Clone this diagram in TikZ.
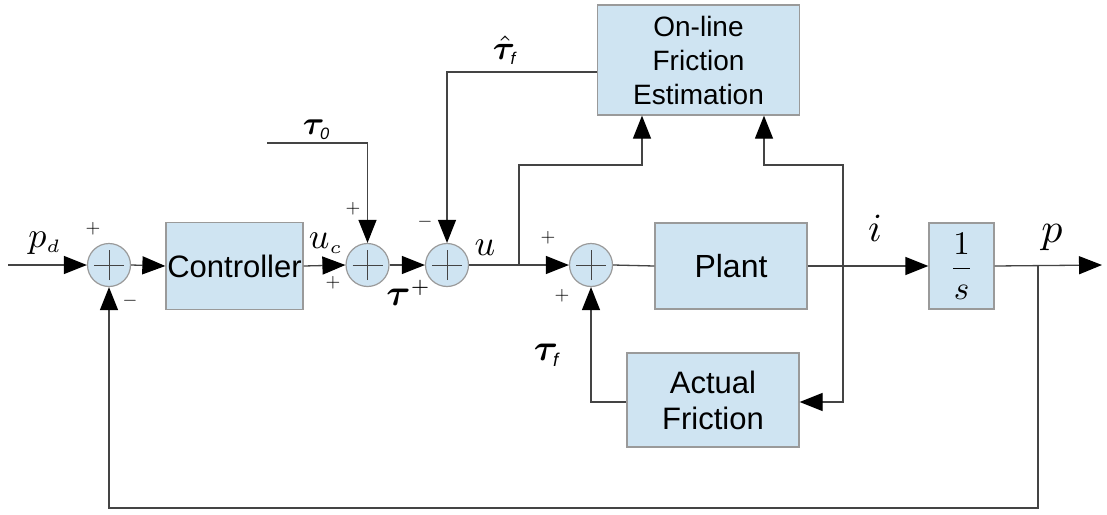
\documentclass[tikz,border=0pt]{standalone}
\usepackage{graphicx}
\usepackage{amsmath}
\usepackage{bm}
\usepackage{fontspec}
\setmainfont{Liberation Sans}
\usetikzlibrary{arrows.meta}
\definecolor{boxblue}{HTML}{CFE4F2}
\definecolor{boxedge}{HTML}{9A9A9A}
\definecolor{wire}{HTML}{444444}
\newcommand{\mlab}[2][2.8]{\scalebox{#1}{$#2$}}
\tikzset{
  blk/.style={draw=boxedge, line width=1.3pt, fill=boxblue, inner sep=0pt, align=center,
    font=\fontsize{31}{34}\selectfont},
  sumnode/.style={circle, draw=boxedge, line width=1.2pt, fill=boxblue, minimum size=43pt, inner sep=0pt,
    path picture={\draw[wire, line width=1pt] ([xshift=-15pt]path picture bounding box.center) -- ([xshift=15pt]path picture bounding box.center);
                  \draw[wire, line width=1pt] ([yshift=-15pt]path picture bounding box.center) -- ([yshift=15pt]path picture bounding box.center);}},
  wireline/.style={draw=wire, line width=1.3pt},
  arr/.style={wireline, -{Triangle[length=23pt,width=18pt,color=black]}},
  lbl/.style={inner sep=0pt, font=\normalsize},
  sgn/.style={inner sep=0pt, font=\normalsize}
}
\begin{document}
\begin{tikzpicture}[x=1pt,y=-1pt]
\path[use as bounding box, fill=white] (0,0) rectangle (1107,514);

% blocks
\node[blk, minimum width=137pt, minimum height=87pt] (ctrl) at (234.5,266) {Controller};
\node[blk, minimum width=202pt, minimum height=110pt, font=\fontsize{28}{34}\selectfont] (est) at (698.5,60) {On-line\\Friction\\Estimation};
\node[blk, minimum width=152pt, minimum height=86pt, font=\fontsize{32}{35}\selectfont] (plant) at (731,266) {Plant};
\node[blk, minimum width=172pt, minimum height=94pt, font=\fontsize{31}{36}\selectfont] (af) at (713,400) {Actual\\Friction};
\node[blk, minimum width=65pt, minimum height=86pt, font=\normalsize] (integ) at (961.5,266) {\mlab[3.3]{\dfrac{1}{s}}};

% summing junctions
\node[sumnode] (s1) at (109,265) {};
\node[sumnode] (s2) at (367.5,265) {};
\node[sumnode] (s3) at (447,265) {};
\node[sumnode] (s4) at (591,265) {};

% free ends and branch points
\coordinate (in) at (8,265);
\coordinate (t0) at (267,143);
\coordinate (j1) at (519,265);
\coordinate (j2) at (843,265);
\coordinate (j3) at (1038,265);
\coordinate (out) at (1102,265);

% connectors
\draw[arr] (in) -- (s1.west);
\draw[arr] (s1.east) -- (ctrl.west);
\draw[arr] (ctrl.east) -- (s2.west);
\draw[arr] (s2.east) -- (s3.west);
\draw[arr] (t0) -| (s2.north);
\draw[arr] ([yshift=-12pt]est.west) -| (s3.north);
\draw[arr] (s3.east) -- (s4.west);
\draw[arr] (j1) -- ++(0,-100) -| ([xshift=-56.5pt]est.south);
\draw[wireline] (s4.east) -- (plant.west);
\draw[arr] (plant.east) -- (integ.west);
\draw[arr] (j2) -- ++(0,-100) -| ([xshift=65.5pt]est.south);
\draw[arr] (j2) |- ([yshift=-2pt]af.east);
\draw[arr] ([yshift=-2pt]af.west) -| (s4.south);
\draw[arr] (integ.east) -- (out);
\draw[arr] (j3) -- ++(0,243) -| (s1.south);

% labels
\node[lbl] (lpd) at (45,243) {\mlab[3.6]{p_{\scriptscriptstyle d}}};
\node[sgn] (sg1) at (93,229) {\mlab[1.9]{+}};
\node[sgn] (sg2) at (130,301) {\mlab[1.9]{-}};
\node[lbl] (luc) at (326,243) {\mlab[3.6]{u_{\scriptscriptstyle c}}};
\node[sgn] (sg3) at (333,283) {\mlab[1.9]{+}};
\node[sgn] (sg4) at (353,209) {\mlab[1.9]{+}};
\node[lbl] (ltp) at (409,293) {\mlab[3.7]{\bm{\tau}^{\scriptscriptstyle +}}};
\node[sgn] (sg5) at (425,222) {\mlab[1.9]{-}};
\node[lbl] (lu) at (485,248) {\mlab[3.6]{u}};
\node[lbl] (lt0) at (317,130) {\mlab[3.3]{\bm{\tau}_{\scriptscriptstyle\mathit{0}}}};
\node[lbl] (lth) at (505,50) {\mlab[3.4]{\hat{\bm{\tau}}_{\scriptscriptstyle\mathit{f}}}};
\node[sgn] (sg6) at (548,238) {\mlab[1.9]{+}};
\node[sgn] (sg7) at (562,296) {\mlab[1.9]{+}};
\node[lbl] (ltf) at (547,355) {\mlab[3.7]{\bm{\tau}_{\scriptscriptstyle\mathit{f}}}};
\node[lbl] (li) at (875,228) {\mlab[4.0]{i}};
\node[lbl] (lp) at (1052,238) {\mlab[4.2]{p}};
\end{tikzpicture}
\end{document}
